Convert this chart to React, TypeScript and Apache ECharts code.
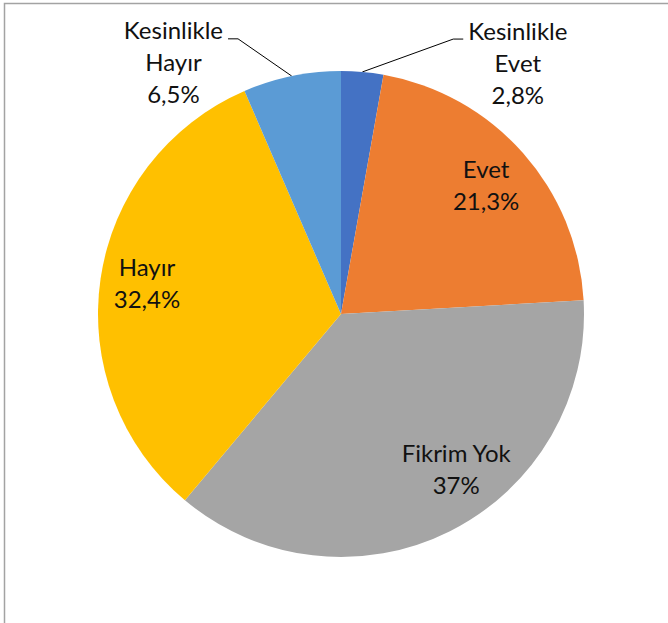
import React, { useEffect, useRef } from "react";
import * as echarts from "echarts";

const categories = ["Kesinlikle Evet", "Evet", "Fikrim Yok", "Hayır", "Kesinlikle Hayır"];
const values = [2.8, 21.3, 37, 32.4, 6.5];
const labelPlacement = ["outside", "inside", "inside", "inside", "outside"];

const colors = ["#4472C4", "#ED7D31", "#A5A5A5", "#FFC000", "#5B9BD5"];
const FONT = "Lato, 'Open Sans', sans-serif";
const CENTER = [341, 314];
const RADIUS = 243;

// small text nudges (padding: top, right, bottom, left) for the inside labels
const insidePadding: Record<number, number[]> = {
  1: [0, 0, 6, 6],
  2: [0, 0, 30, 60],
  3: [0, 12, 8, 0],
};
// outside leader line lengths per slice
const outsideLine: Record<number, { length: number; length2: number }> = {
  0: { length: 33, length2: 98 },
  4: { length: 38, length2: 56 },
};

const fmtValue = (v: number) => String(v).replace(".", ",") + "%";

const richText = {
  c: {
    align: "center",
    fontSize: 24,
    lineHeight: 32,
    fontFamily: FONT,
    color: "#111",
  },
};

export default function App() {
  const ref = useRef<HTMLDivElement>(null);
  useEffect(() => {
    if (!ref.current) return;
    const chart = echarts.init(ref.current, null, { renderer: "svg" });

    const mainData = categories.map((name, i) => {
      const outside = labelPlacement[i] === "outside";
      return {
        name,
        value: values[i],
        itemStyle: { color: colors[i] },
        label: outside
          ? {
              show: true,
              position: "outside",
              formatter: () => {
                const parts = name.split(" ");
                return parts.map((p) => `{c|${p}}`).join("\n") + `\n{c|${fmtValue(values[i])}}`;
              },
              padding: [46, 0, 0, 0],
              rich: richText,
            }
          : { show: false },
        labelLine: outside
          ? {
              show: true,
              length: outsideLine[i].length,
              length2: outsideLine[i].length2,
              lineStyle: { color: "#000", width: 1 },
            }
          : { show: false },
      };
    });

    const overlayData = categories.map((name, i) => {
      const inside = labelPlacement[i] === "inside";
      return {
        name,
        value: values[i],
        itemStyle: { color: "rgba(0,0,0,0)" },
        label: inside
          ? {
              show: true,
              position: "inside",
              formatter: () => `{c|${name}}\n{c|${fmtValue(values[i])}}`,
              padding: insidePadding[i] || 0,
              rich: richText,
            }
          : { show: false },
        labelLine: { show: false },
      };
    });

    chart.setOption({
      animation: false,
      backgroundColor: "#ffffff",
      graphic: [
        {
          type: "rect",
          shape: { x: 4.5, y: 3.5, width: 800, height: 800 },
          style: { fill: "none", stroke: "#a3a3a3", lineWidth: 1.5 },
          silent: true,
          z: -10,
        },
      ],
      series: [
        {
          type: "pie",
          center: CENTER,
          radius: RADIUS,
          startAngle: 90,
          clockwise: true,
          avoidLabelOverlap: false,
          itemStyle: { borderWidth: 0 },
          emphasis: { disabled: true },
          data: mainData,
          labelLayout: (params: any) => {
            const pts = params.labelLinePoints;
            if (!pts || pts.length < 3) return {};
            const start = pts[0];
            const end = pts[pts.length - 1];
            const dir = end[0] < start[0] ? 1 : -1;
            return { labelLinePoints: [start, [end[0] + dir * 10, end[1]], end] };
          },
        },
        {
          type: "pie",
          center: CENTER,
          radius: [130, 244],
          startAngle: 90,
          clockwise: true,
          silent: true,
          avoidLabelOverlap: false,
          emphasis: { disabled: true },
          data: overlayData,
          z: 3,
        },
      ],
    });
    return () => chart.dispose();
  }, []);

  return (
    <div
      ref={ref}
      style={{ position: "fixed", left: 0, top: 0, width: 668, height: 623, background: "#fff" }}
    />
  );
}
